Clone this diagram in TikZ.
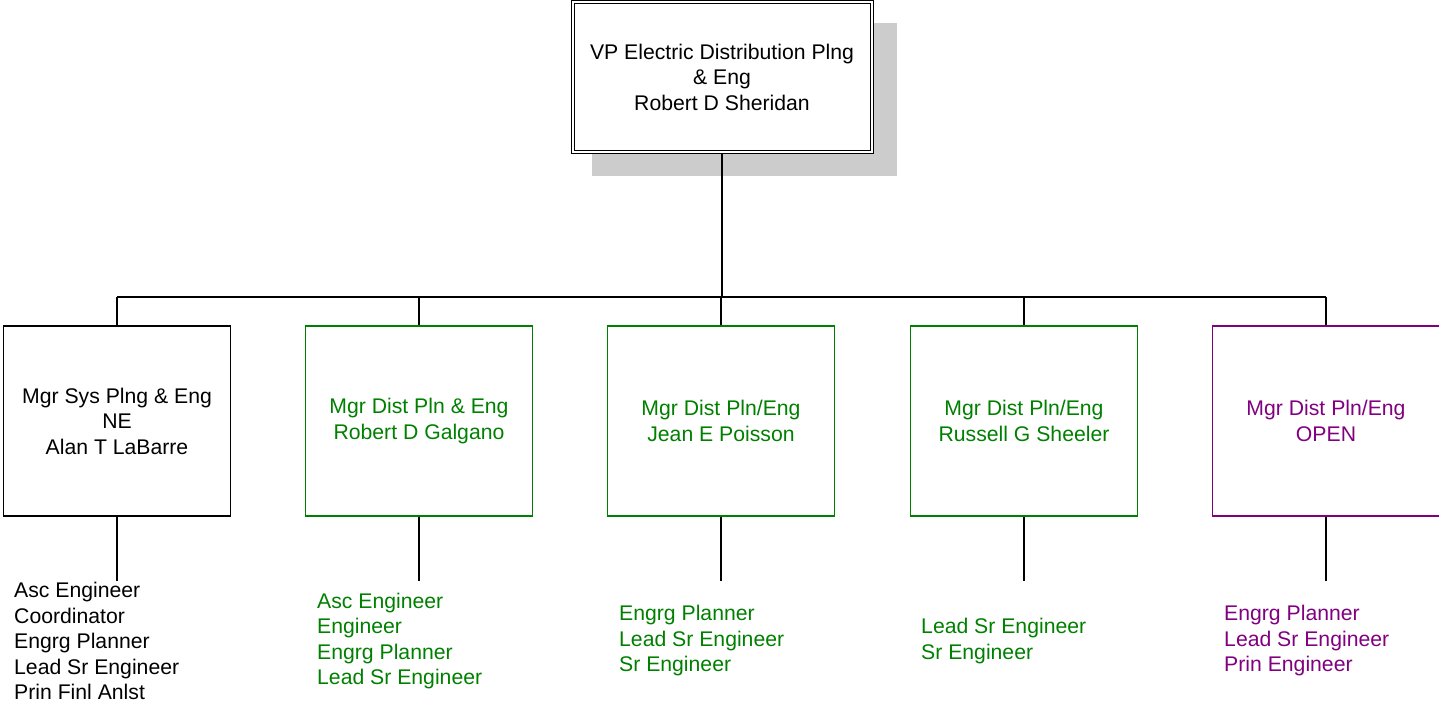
\documentclass[tikz,border=0pt]{standalone}
\usepackage{fontspec}
\setmainfont{Liberation Sans}
\usetikzlibrary{positioning,calc}
\definecolor{mgrgreen}{RGB}{0,128,0}
\definecolor{mgrpurple}{RGB}{128,0,128}
\tikzset{
  txt/.style={font=\fontsize{21.2}{25.5}\selectfont, inner sep=0pt},
  mgrbox/.style={txt,rectangle,draw,line width=1.3pt,fill=white,minimum width=227,minimum height=190,align=center},
  rolelist/.style={txt,anchor=west,align=left},
  conn/.style={line width=1.5pt,black},
}
\begin{document}
\begin{tikzpicture}[x=1pt,y=-1pt]
\useasboundingbox (0,0) rectangle (1439,702);
% top box with shadow
\fill[black!20] (592,23) rectangle (897,176);
\node[txt,draw,double,double distance=2pt,line width=1pt,fill=white,minimum width=299,minimum height=150,align=center] (vp) at (722,77)
  {VP Electric Distribution Plng\\ \& Eng\\ Robert D Sheridan};
% managers
\node[mgrbox] (m1) at (117,421) {Mgr Sys Plng \& Eng\\ NE\\ Alan T LaBarre};
\node[mgrbox,draw=mgrgreen,text=mgrgreen] (m2) at (419,421) {Mgr Dist Pln \& Eng\\ Robert D Galgano};
\node[mgrbox,draw=mgrgreen,text=mgrgreen] (m3) at (721,421) {Mgr Dist Pln/Eng\\ Jean E Poisson};
\node[mgrbox,draw=mgrgreen,text=mgrgreen] (m4) at (1024,421) {Mgr Dist Pln/Eng\\ Russell G Sheeler};
\node[mgrbox,draw=mgrpurple,text=mgrpurple] (m5) at (1326,421) {Mgr Dist Pln/Eng\\ OPEN};
% role lists
\node[rolelist] (r1) at (14,641) {Asc Engineer\\ Coordinator\\ Engrg Planner\\ Lead Sr Engineer\\ Prin Finl Anlst};
\node[rolelist,text=mgrgreen] (r2) at (317,641) {Asc Engineer\\ Engineer\\ Engrg Planner\\ Lead Sr Engineer};
\node[rolelist,text=mgrgreen] (r3) at (619,641) {Engrg Planner\\ Lead Sr Engineer\\ Sr Engineer};
\node[rolelist,text=mgrgreen] (r4) at (921,641) {Lead Sr Engineer\\ Sr Engineer};
\node[rolelist,text=mgrpurple] (r5) at (1224,641) {Engrg Planner\\ Lead Sr Engineer\\ Prin Engineer};
% connectors
\coordinate (busl) at (117,297);
\coordinate (busr) at (1326,297);
\draw[conn] (vp.south) -- (vp.south |- busl);
\draw[conn] (busl) -- (busr);
\foreach \i in {1,...,5}{
  \coordinate (t\i) at ($(m\i.south)+(0,64)$);
  \draw[conn] (m\i.north) -- (m\i.north |- busl);
  \draw[conn] (m\i.south) -- (t\i);
}
\end{tikzpicture}
\end{document}
